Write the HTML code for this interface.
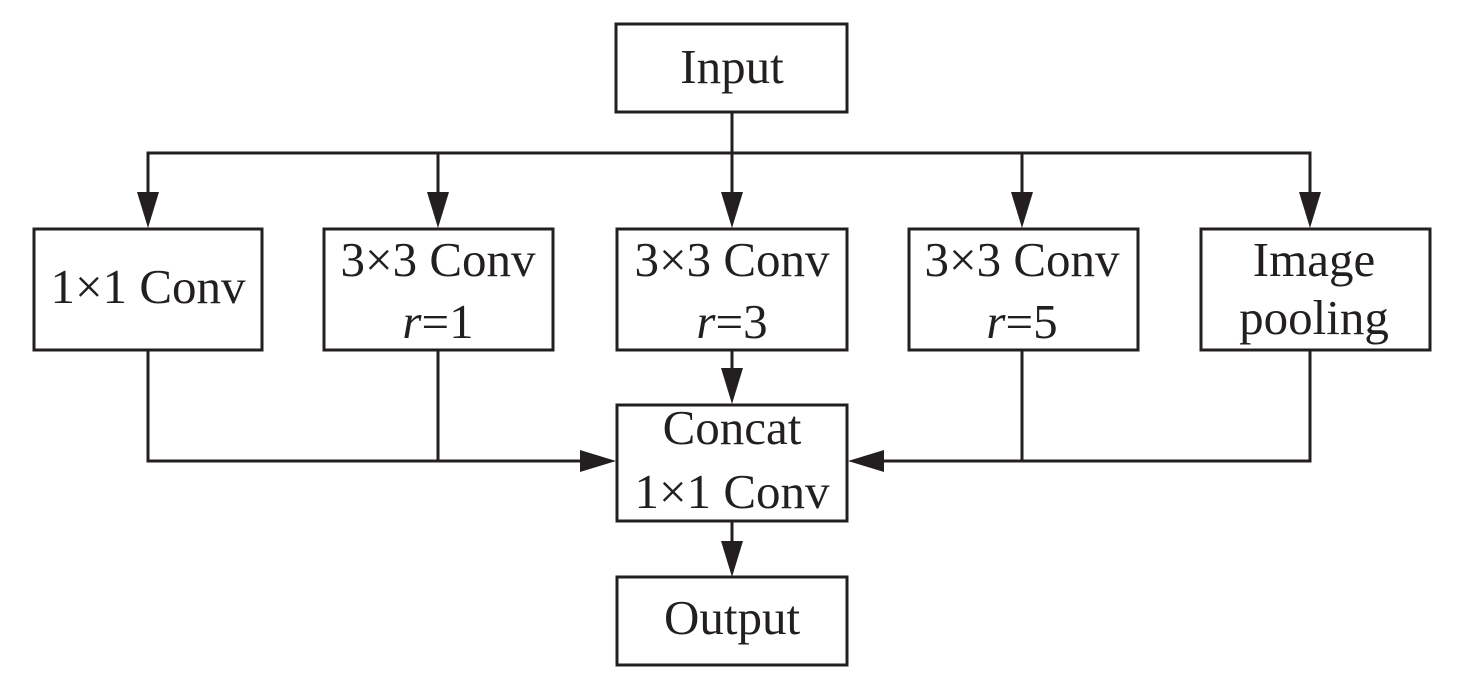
<!DOCTYPE html>
<html><head><meta charset="utf-8"><style>body{margin:0;background:#fff}</style></head><body>
<svg width="1472" height="677" viewBox="0 0 1472 677" xmlns="http://www.w3.org/2000/svg" font-family="Liberation Serif, serif" font-size="49" fill="#231f20">
<g fill="none" stroke="#231f20" stroke-width="3">
<rect x="616" y="24" width="231" height="88"/>
<rect x="34" y="229" width="228" height="121"/>
<rect x="324" y="229" width="229" height="121"/>
<rect x="617" y="229" width="230" height="121"/>
<rect x="909" y="229" width="229" height="121"/>
<rect x="1201" y="229" width="229" height="121"/>
<rect x="617" y="405" width="230" height="116"/>
<rect x="617" y="577" width="230" height="88"/>
<path d="M732 112V192M148 192V153H1310V192M438 153V192M1022 153V192"/>
<path d="M148 350V461H582M438 350V461M1310 350V461H882M1022 350V461"/>
<path d="M732 350V370M732 521V542"/>
</g>
<g stroke="none">
<path d="M137 192h22l-11 36z"/><path d="M427 192h22l-11 36z"/><path d="M721 192h22l-11 36z"/><path d="M1011 192h22l-11 36z"/><path d="M1299 192h22l-11 36z"/>
<path d="M721 368h22l-11 36z"/><path d="M721 541h22l-11 36z"/>
<path d="M580 450v22l36-11z"/><path d="M884 450v22l-36-11z"/>
</g>
<g text-anchor="middle">
<text x="732" y="83">Input</text>
<text x="148" y="303">1×1 Conv</text>
<text x="438" y="276">3×3 Conv</text>
<text x="438" y="338"><tspan font-style="italic">r</tspan>=1</text>
<text x="732" y="276">3×3 Conv</text>
<text x="732" y="338"><tspan font-style="italic">r</tspan>=3</text>
<text x="1022" y="276">3×3 Conv</text>
<text x="1022" y="338"><tspan font-style="italic">r</tspan>=5</text>
<text x="1314" y="276">Image</text>
<text x="1314" y="334">pooling</text>
<text x="732" y="444">Concat</text>
<text x="732" y="508">1×1 Conv</text>
<text x="732" y="634">Output</text>
</g>
</svg>
</body></html>
